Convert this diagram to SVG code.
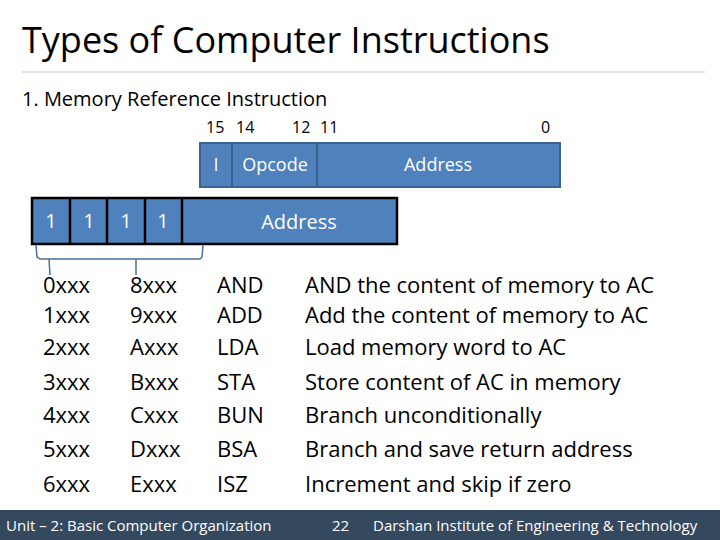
<svg xmlns="http://www.w3.org/2000/svg" width="720" height="540" viewBox="0 0 720 540">
<style>
text{font-family:"Open Sans","Liberation Sans",sans-serif}
.c{fill:#4f81bd}
.w{fill:#fff;font-size:18px;text-anchor:middle}
.t{font-size:22px;fill:#000}
</style>
<rect width="720" height="540" fill="#fff"/>
<text x="22" y="53" font-size="36" fill="#000">Types of Computer Instructions</text>
<line x1="22" y1="72" x2="705" y2="72" stroke="#ddd" stroke-width="1.5"/>
<text x="22" y="106" font-size="20">1.   Memory Reference Instruction</text>
<g font-size="16" fill="#000"><text x="206" y="133">15</text><text x="236" y="133">14</text><text x="292" y="133">12</text><text x="320" y="133">11</text><text x="541" y="133">0</text></g>
<g id="format">
<rect x="200" y="143" width="360" height="44" class="c" stroke="#3a6190" stroke-width="2"/>
<line x1="232" y1="143" x2="232" y2="187" stroke="#3a6190" stroke-width="2"/>
<line x1="317" y1="143" x2="317" y2="187" stroke="#3a6190" stroke-width="2"/>
<text x="216" y="171" class="w">I</text><text x="275" y="171" class="w">Opcode</text><text x="438" y="171" class="w">Address</text>
</g>
<g id="example">
<rect x="32" y="198" width="365" height="46" class="c" stroke="#000" stroke-width="2.5"/>
<g stroke="#000" stroke-width="2.5"><line x1="70" y1="198" x2="70" y2="244"/><line x1="107" y1="198" x2="107" y2="244"/><line x1="145" y1="198" x2="145" y2="244"/><line x1="182" y1="198" x2="182" y2="244"/></g>
<g class="w" style="font-size:20px"><text x="51" y="228" style="fill:#fff">1</text><text x="89" y="228" style="fill:#fff">1</text><text x="126" y="228" style="fill:#fff">1</text><text x="163" y="228" style="fill:#fff">1</text></g>
<text x="299" y="229" class="w" style="font-size:20px">Address</text>
</g>
<g id="connectors" fill="none" stroke="#4a6f9a" stroke-width="1.5">
<path d="M36 245 L37 257 L40 259 L200 259 L202 257 L203 245"/>
<path d="M49 259 L50 275 M136 259 L136 275"/>
</g>
<g class="t">
<text x="43" y="293">0xxx</text><text x="43" y="323">1xxx</text><text x="43" y="355">2xxx</text><text x="43" y="390">3xxx</text><text x="43" y="423">4xxx</text><text x="43" y="457">5xxx</text><text x="43" y="492">6xxx</text>
<text x="130" y="293">8xxx</text><text x="130" y="323">9xxx</text><text x="130" y="355">Axxx</text><text x="130" y="390">Bxxx</text><text x="130" y="423">Cxxx</text><text x="130" y="457">Dxxx</text><text x="130" y="492">Exxx</text>
<text x="217" y="293">AND</text><text x="217" y="323">ADD</text><text x="217" y="355">LDA</text><text x="217" y="390">STA</text><text x="217" y="423">BUN</text><text x="217" y="457">BSA</text><text x="217" y="492">ISZ</text>
<text x="305" y="293">AND the content of memory to AC</text><text x="305" y="323">Add the content of memory to AC</text><text x="305" y="355">Load memory word to AC</text><text x="305" y="390">Store content of AC in memory</text><text x="305" y="423">Branch unconditionally</text><text x="305" y="457">Branch and save return address</text><text x="305" y="492">Increment and skip if zero</text>
</g>
<rect x="0" y="510" width="720" height="30" fill="#34495e"/>
<g fill="#fff" font-size="15"><text x="6" y="531">Unit – 2: Basic Computer Organization</text><text x="332" y="531">22</text><text x="373" y="531">Darshan Institute of Engineering &amp; Technology</text></g>
</svg>
